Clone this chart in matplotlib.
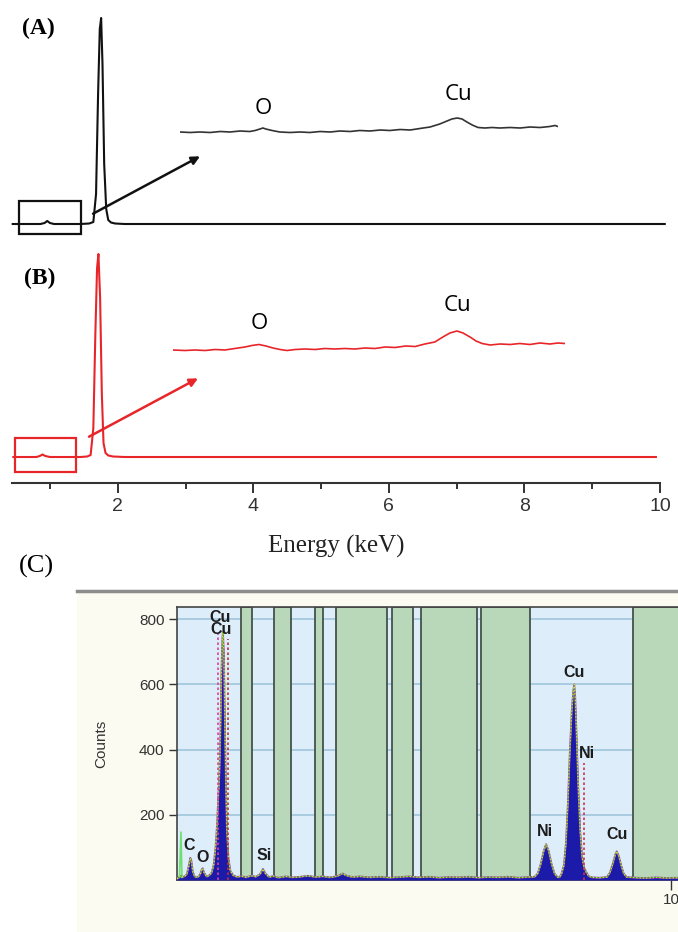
import matplotlib.pyplot as plt
from matplotlib.patches import Rectangle
from matplotlib.lines import Line2D

W, H = 678, 932

# ---- panel A / B main spectra (energy keV, intensity a.u.) ----
a_energy = [0.45, 0.86, 0.92, 0.96, 1.00, 1.06, 1.45, 1.58, 1.64, 1.68, 1.71, 1.735,
            1.755, 1.775, 1.80, 1.83, 1.86, 1.90, 1.96, 2.1, 10.07]
a_counts = [10, 10, 11, 13, 11, 10, 10, 10.5, 12, 40, 140, 205,
            216, 170, 70, 25, 14, 11.5, 10.5, 10, 10]

b_energy = [0.46, 0.80, 0.85, 0.89, 0.93, 1.0, 1.45, 1.55, 1.60, 1.64, 1.67, 1.695,
            1.715, 1.74, 1.765, 1.79, 1.82, 1.86, 1.93, 2.1, 9.94]
b_counts = [26, 26, 27, 28.5, 27, 26, 26, 26.5, 28, 55, 150, 215,
            229, 185, 90, 40, 30, 27.5, 26.5, 26, 26]

# ---- zoomed insets (low energy region) ----
ia_energy = [0.350, 0.371, 0.391, 0.412, 0.433, 0.453, 0.474, 0.494, 0.505, 0.515,
             0.521, 0.527, 0.540, 0.556, 0.577, 0.598, 0.618, 0.639, 0.660, 0.680,
             0.701, 0.721, 0.742, 0.763, 0.783, 0.804, 0.825, 0.845, 0.866, 0.886,
             0.901, 0.911, 0.922, 0.932, 0.942, 0.953, 0.965, 0.979, 0.994, 1.010,
             1.031, 1.052, 1.072, 1.093, 1.113, 1.124, 1.130]
ia_counts = [8, 7.5, 8, 7.5, 8.5, 8, 9, 8.5, 9.5, 11,
             12, 11, 9.5, 8, 7.5, 8, 7.5, 8.5, 8, 9,
             8.5, 9.5, 9, 10, 9.5, 10.5, 10, 11.5, 13, 16,
             19, 21, 22, 21, 18, 15, 12.5, 12, 12.5, 12,
             12.5, 12, 13, 12.5, 13.5, 14.5, 13.5]

ib_energy = [0.350, 0.374, 0.394, 0.414, 0.434, 0.453, 0.473, 0.493, 0.507, 0.521,
             0.535, 0.549, 0.563, 0.577, 0.593, 0.613, 0.633, 0.652, 0.672, 0.692,
             0.712, 0.732, 0.752, 0.772, 0.792, 0.813, 0.832, 0.851, 0.871, 0.887,
             0.901, 0.915, 0.927, 0.941, 0.953, 0.965, 0.981, 1.001, 1.021, 1.040,
             1.060, 1.080, 1.100, 1.116, 1.130]
ib_counts = [10, 9.5, 10, 9.5, 10.5, 10, 11.5, 13, 14.5, 15.5,
             14, 12, 10.5, 9.5, 10.5, 11, 10.5, 11.5, 11, 11.5,
             11, 12, 11.5, 13, 12.5, 14, 13.5, 16, 18, 23,
             27, 29, 27, 23, 19, 16.5, 15, 16, 15.5, 16.5,
             15.5, 17, 16, 17, 16.5]

# ---- panel C: EDS spectrum ----
c_energy = [0.00, 0.04, 0.08, 0.12, 0.16, 0.20, 0.24, 0.27, 0.29, 0.32, 0.36, 0.42,
            0.47, 0.50, 0.52, 0.55, 0.60, 0.65, 0.70, 0.74, 0.78, 0.81, 0.84, 0.86,
            0.88, 0.90, 0.92, 0.93, 0.95, 0.97, 0.99, 1.01, 1.04, 1.08, 1.14, 1.22,
            1.30, 1.40, 1.50, 1.60, 1.68, 1.74, 1.79, 1.86, 1.95, 2.05, 2.20, 2.35,
            2.50, 2.65, 2.80, 2.95, 3.10, 3.25, 3.35, 3.42, 3.55, 3.70, 3.90, 4.10,
            4.30, 4.50, 4.70, 4.90, 5.10, 5.30, 5.50, 5.70, 5.90, 6.10, 6.30, 6.50,
            6.70, 6.90, 7.10, 7.24, 7.30, 7.36, 7.42, 7.47, 7.52, 7.58, 7.64, 7.70,
            7.74, 7.78, 7.83, 7.87, 7.91, 7.95, 7.99, 8.02, 8.04, 8.06, 8.09, 8.12,
            8.16, 8.20, 8.24, 8.28, 8.33, 8.40, 8.55, 8.70, 8.76, 8.82, 8.87, 8.90,
            8.94, 8.99, 9.04, 9.10, 9.30, 9.50, 9.70, 9.90, 10.14]
c_counts = [4, 8, 14, 9, 12, 18, 45, 68, 60, 25, 10, 8,
            18, 32, 36, 22, 10, 14, 22, 45, 100, 170, 270, 330,
            460, 640, 745, 760, 690, 470, 290, 150, 70, 28, 14, 9,
            12, 8, 13, 10, 18, 34, 20, 9, 12, 7, 11, 8,
            10, 13, 9, 11, 8, 12, 20, 14, 9, 11, 8, 10,
            7, 9, 11, 8, 10, 7, 9, 8, 10, 7, 9, 8,
            10, 7, 9, 10, 20, 48, 88, 110, 90, 50, 20, 9,
            8, 18, 45, 110, 230, 390, 520, 580, 600, 560, 430, 290,
            150, 70, 38, 25, 12, 8, 7, 9, 22, 50, 78, 88,
            74, 45, 20, 9, 7, 6, 8, 6, 7]
spike_energy = [0.05, 0.08, 0.10]
spike_counts = [8, 147, 8]

green_bands = [(1.30, 1.52), (1.96, 2.31), (2.79, 2.96), (3.22, 4.25), (4.35, 4.78),
               (4.94, 6.07), (6.15, 7.15), (9.23, 10.6)]

c_labels = ["C", "O", "Cu", "Cu", "Si", "Ni", "Cu", "Ni", "Cu"]
c_label_e = [0.24, 0.51, 0.88, 0.90, 1.76, 7.45, 8.04, 8.30, 8.91]
c_label_c = [107, 70, 805, 768, 74, 150, 635, 388, 141]
marker_e = [0.83, 1.03, 8.24]
marker_top = [755, 740, 360]
marker_col = ['#e0409a', '#c03030', '#d03050']


def px_axes(x0, y0, x1, y1):
    return fig.add_axes([x0 / W, 1 - y1 / H, (x1 - x0) / W, (y1 - y0) / H])


fig = plt.figure(figsize=(W / 100, H / 100), dpi=100)

serif = 'Liberation Serif'
sans = 'Liberation Sans'

# ---------------- panel A ----------------
axA = px_axes(12, 0, 660, 234)
axA.plot(a_energy, a_counts, color='#111111', lw=1.5, clip_on=False)
axA.set_xlim(0.44, 10)
axA.set_ylim(0, 234)
axA.axis('off')
axA.add_patch(Rectangle((0.54, 0), 0.92, 33, fill=False, ec='#111111', lw=1.6, clip_on=False))
axA.annotate('', xy=(3.25, 79), xytext=(1.60, 19),
             arrowprops=dict(arrowstyle='-|>', color='#111111', lw=1.8, mutation_scale=12))

insA = px_axes(180, 85, 558, 140)
insA.plot(ia_energy, ia_counts, color='#333333', lw=1.2)
insA.set_xlim(0.35, 1.13)
insA.set_ylim(0, 55)
insA.axis('off')
insA.text(0.521, 32, 'O', family='Open Sans', fontsize=16, ha='center', va='center')
insA.text(0.925, 46, 'Cu', family='Open Sans', fontsize=16, ha='center', va='center')

fig.text(38 / W, 1 - 28 / H, '(A)', family=serif, weight='bold', fontsize=17,
         ha='center', va='center')

# ---------------- panel B ----------------
axB = px_axes(12, 244, 660, 483)
axB.plot(b_energy, b_counts, color='#e8262a', lw=1.5, clip_on=False)
axB.set_xlim(0.44, 10)
axB.set_ylim(0, 239)
for s in ['top', 'right', 'left']:
    axB.spines[s].set_visible(False)
axB.spines['bottom'].set_color('#333333')
axB.spines['bottom'].set_linewidth(1.5)
axB.set_yticks([])
axB.set_xticks([2, 4, 6, 8, 10])
axB.set_xticks([1, 3, 5, 7, 9], minor=True)
axB.tick_params(axis='x', which='major', length=7, width=1.4, color='#333333',
                labelsize=14, labelcolor='#333333', pad=4)
axB.tick_params(axis='x', which='minor', length=4, width=1.4, color='#333333')
for lab in axB.get_xticklabels():
    lab.set_family(sans)
axB.set_xlabel('Energy (keV)', family=serif, fontsize=18, color='#222222', labelpad=14)
axB.add_patch(Rectangle((0.485, 11), 0.895, 34, fill=False, ec='#e8262a', lw=1.6, clip_on=False))
axB.annotate('', xy=(3.22, 106), xytext=(1.54, 45),
             arrowprops=dict(arrowstyle='-|>', color='#e8262a', lw=1.8, mutation_scale=12))

insB = px_axes(173, 290, 565, 360)
insB.plot(ib_energy, ib_counts, color='#e8262a', lw=1.2)
insB.set_xlim(0.35, 1.13)
insB.set_ylim(0, 70)
insB.axis('off')
insB.text(0.521, 37, 'O', family='Open Sans', fontsize=16, ha='center', va='center')
insB.text(0.915, 55, 'Cu', family='Open Sans', fontsize=16, ha='center', va='center')

fig.text(40 / W, 1 - 278 / H, '(B)', family=serif, weight='bold', fontsize=17,
         ha='center', va='center')

# ---------------- panel C ----------------
fig.patches.append(Rectangle((77 / W, 0), (W - 77) / W, (H - 592) / H,
                             transform=fig.transFigure, fc='#fbfbf1', ec='none', zorder=-2))
fig.lines.append(Line2D([77 / W, 1], [1 - 591 / H, 1 - 591 / H], transform=fig.transFigure,
                        color='#8c8c8c', lw=2.5, zorder=-1))
fig.text(36 / W, 1 - 566 / H, '(C)', family=serif, fontsize=19, ha='center', va='center')

axC = px_axes(177, 607, 678, 880)
axC.set_facecolor('#ddedf9')
axC.set_xlim(0, 10.14)
axC.set_ylim(0, 837)
axC.set_axisbelow(True)
axC.yaxis.grid(True, color='#9fc6dc', lw=1.2)
for lo, hi in green_bands:
    axC.axvspan(lo, hi, fc='#b8d8b9', ec='#45524b', lw=1.3, zorder=1)
axC.fill_between(c_energy, c_counts, color='#1c1aa8', lw=0, zorder=3)
axC.plot(c_energy, c_counts, color='#b040b8', lw=1.3, zorder=4)
axC.plot(c_energy, c_counts, color='#2fae3a', lw=0.6, zorder=4.2)
axC.plot(c_energy, c_counts, color='#e6e030', lw=0.9, ls=':', zorder=5)
axC.plot(spike_energy, spike_counts, color='#6ee06e', lw=1.2, zorder=4)
for e, top, col in zip(marker_e, marker_top, marker_col):
    axC.plot([e, e], [0, top], color=col, lw=1.2, ls=(0, (1.5, 1.5)), zorder=6)
for t, e, c in zip(c_labels, c_label_e, c_label_c):
    axC.text(e, c, t, family=sans, weight='bold', fontsize=11.5, color='#1c1c1c',
             ha='center', va='center', zorder=7)
axC.set_yticks([200, 400, 600, 800])
axC.set_xticks([10])
axC.tick_params(axis='y', length=6, width=1, color='#333333', labelsize=11,
                labelcolor='#333333', pad=3)
axC.tick_params(axis='x', length=7, width=1, color='#333333', labelsize=11,
                labelcolor='#333333', pad=2)
for lab in axC.get_xticklabels() + axC.get_yticklabels():
    lab.set_family(sans)
axC.set_ylabel('Counts', family=sans, fontsize=11, color='#333333', labelpad=22)
for s in ['left', 'top', 'bottom']:
    axC.spines[s].set_color('#444444')
    axC.spines[s].set_linewidth(1.2)
axC.spines['right'].set_visible(False)

fig.savefig('out.png', dpi=100)
